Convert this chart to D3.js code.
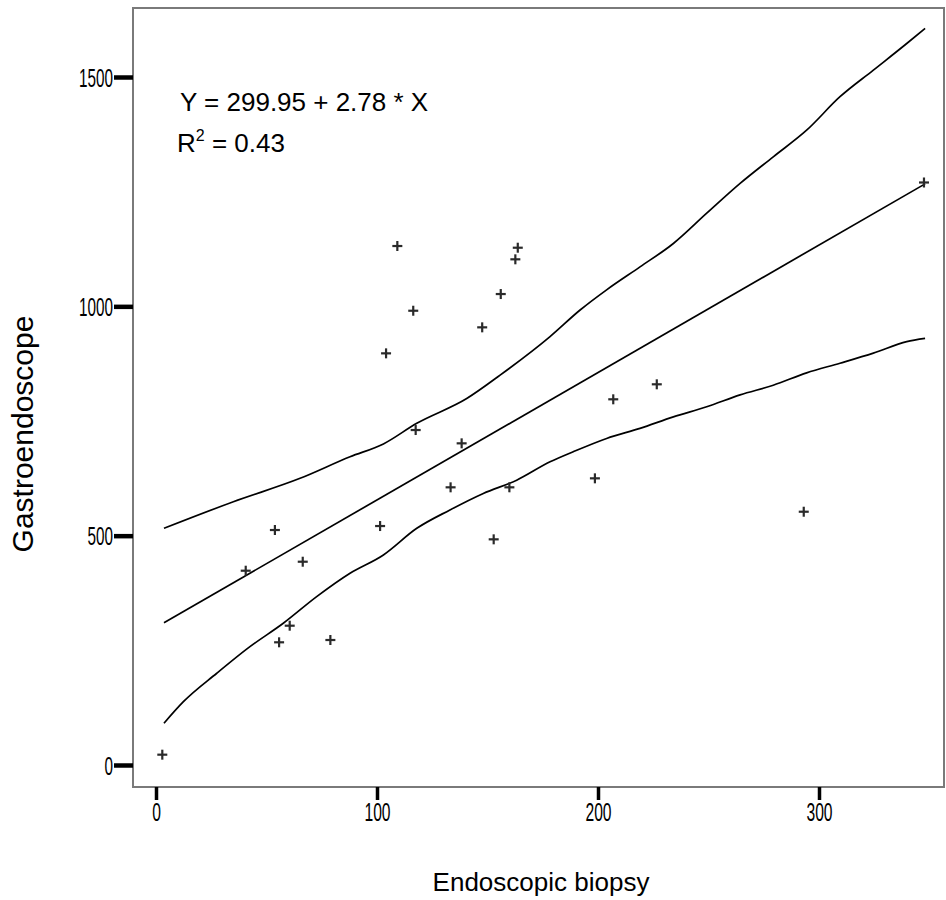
<!DOCTYPE html>
<html>
<head>
<meta charset="utf-8">
<script src="https://cdn.jsdelivr.net/npm/d3@7"></script>
<style>
  html, body { margin: 0; padding: 0; background: #fff; }
  svg { display: block; }
</style>
</head>
<body>
<svg id="chart" width="946" height="900"></svg>
<script>
// ---- data ----
const pointX = [2.85, 40.6, 53.8, 66.4, 60.5, 55.7, 78.9, 101.4, 104.1, 109.2, 116.4, 117.5, 133.3,
                138.3, 147.6, 156.0, 152.8, 159.9, 162.6, 163.7, 198.6, 206.9, 226.6, 293.1, 347.5];
const pointY = [22.5, 423.6, 512.3, 443.2, 303.7, 267.5, 272.5, 521, 897.5, 1131.5, 990.4, 730.3, 605.4,
                701.3, 954.2, 1026.8, 492, 605.4, 1102.5, 1127.8, 625, 797.3, 830, 552.2, 1270];

// upper confidence band (x, y)
const upperX = [3.6, 35, 65.2, 87.8, 102.9, 118, 140.6, 155.7, 178.3, 191.9, 203.9, 219, 234.1, 249.2,
                264.3, 279.3, 294.4, 309.5, 324.6, 339.7, 348];
const upperY = [516, 574, 625, 672, 700, 745, 799, 850, 934, 992, 1036, 1086, 1137, 1203,
                1268, 1326, 1384, 1457, 1515, 1573, 1606];
// lower confidence band (x, y)
const lowerX = [3.6, 12.4, 27.5, 42.5, 57.6, 72.7, 87.8, 102.9, 118, 133, 148.1, 163.2, 178.3, 188.8,
                203.9, 219, 234.1, 249.2, 264.3, 279.3, 294.4, 309.5, 324.6, 339.7, 348];
const lowerY = [91, 138, 200, 258, 309, 367, 418, 458, 516, 556, 592, 621, 661, 683,
                712, 734, 759, 781, 807, 828, 855, 876, 898, 923, 930];
// fitted line end points
const fitX = [3.6, 348];
const fitY = [310, 1267];

const xTicks = [0, 100, 200, 300];
const yTicks = [0, 500, 1000, 1500];
const equationText = "Y = 299.95 + 2.78 * X";
const r2Text = ["R", "2", " = 0.43"];
const xTitle = "Endoscopic biopsy";
const yTitle = "Gastroendoscope";

// ---- drawing ----
const svg = d3.select("#chart");
const x = d3.scaleLinear().domain([0, 300]).range([156, 819]);
const y = d3.scaleLinear().domain([0, 1500]).range([765, 77]);

const frame = { left: 133, right: 944, top: 8, bottom: 787 };

svg.append("rect").attr("width", 946).attr("height", 900).attr("fill", "#fff");

// frame
svg.append("rect")
  .attr("x", frame.left).attr("y", frame.top)
  .attr("width", frame.right - frame.left).attr("height", frame.bottom - frame.top)
  .attr("fill", "none").attr("stroke", "#7a7a7a").attr("stroke-width", 2);

// y axis
const yAxis = d3.axisLeft(y).tickValues(yTicks).tickSize(19).tickPadding(2).tickFormat(d3.format("d"));
const gy = svg.append("g").attr("transform", `translate(${frame.left},0)`).call(yAxis);
gy.select(".domain").remove();
gy.selectAll(".tick line").attr("stroke", "#000").attr("stroke-width", 4.5);
gy.selectAll(".tick text")
  .attr("font-family", "'Liberation Sans', Arial, sans-serif")
  .attr("font-size", 25).attr("fill", "#000")
  .attr("dy", "0.36em")
  .attr("x", -20)
  .attr("textLength", d => String(d).length * 8.5)
  .attr("lengthAdjust", "spacingAndGlyphs");

// x axis
const xAxis = d3.axisBottom(x).tickValues(xTicks).tickSize(13).tickPadding(3).tickFormat(d3.format("d"));
const gx = svg.append("g").attr("transform", `translate(0,${frame.bottom})`).call(xAxis);
gx.select(".domain").remove();
gx.selectAll(".tick line").attr("stroke", "#000").attr("stroke-width", 3.5);
gx.selectAll(".tick text")
  .attr("font-family", "'Liberation Sans', Arial, sans-serif")
  .attr("font-size", 25).attr("fill", "#000")
  .attr("textLength", d => String(d).length * 8.7)
  .attr("lengthAdjust", "spacingAndGlyphs");

// lines
const line = d3.line().x(d => x(d[0])).y(d => y(d[1])).curve(d3.curveMonotoneX);
const bands = [
  d3.zip(upperX, upperY),
  d3.zip(fitX, fitY),
  d3.zip(lowerX, lowerY)
];
svg.append("g").selectAll("path").data(bands).join("path")
  .attr("d", line)
  .attr("fill", "none").attr("stroke", "#000").attr("stroke-width", 1.7);

// points (+ markers)
const pts = d3.zip(pointX, pointY);
const pg = svg.append("g").selectAll("g").data(pts).join("g")
  .attr("transform", d => `translate(${x(d[0])},${y(d[1])})`);
pg.append("line").attr("x1", -5).attr("x2", 5).attr("y1", 0).attr("y2", 0)
  .attr("stroke", "#2a2a2a").attr("stroke-width", 2.2);
pg.append("line").attr("x1", 0).attr("x2", 0).attr("y1", -5).attr("y2", 5)
  .attr("stroke", "#2a2a2a").attr("stroke-width", 2.2);

// equation text
svg.append("text")
  .attr("x", 180).attr("y", 111)
  .attr("font-family", "'Liberation Sans', Arial, sans-serif")
  .attr("font-size", 26).attr("fill", "#000")
  .text(equationText);

const r2 = svg.append("text")
  .attr("x", 177).attr("y", 152)
  .attr("font-family", "'Liberation Sans', Arial, sans-serif")
  .attr("font-size", 26).attr("fill", "#000");
r2.append("tspan").text(r2Text[0]);
r2.append("tspan").attr("font-size", 16).attr("dy", -11).text(r2Text[1]);
r2.append("tspan").attr("dy", 11).text(r2Text[2]);

// axis titles
svg.append("text")
  .attr("x", 541).attr("y", 891)
  .attr("text-anchor", "middle")
  .attr("font-family", "'Liberation Sans', Arial, sans-serif")
  .attr("font-size", 26).attr("fill", "#000")
  .text(xTitle);

svg.append("text")
  .attr("transform", "translate(33,434) rotate(-90)")
  .attr("text-anchor", "middle")
  .attr("font-family", "'Liberation Sans', Arial, sans-serif")
  .attr("font-size", 30).attr("fill", "#000")
  .text(yTitle);
</script>
</body>
</html>
